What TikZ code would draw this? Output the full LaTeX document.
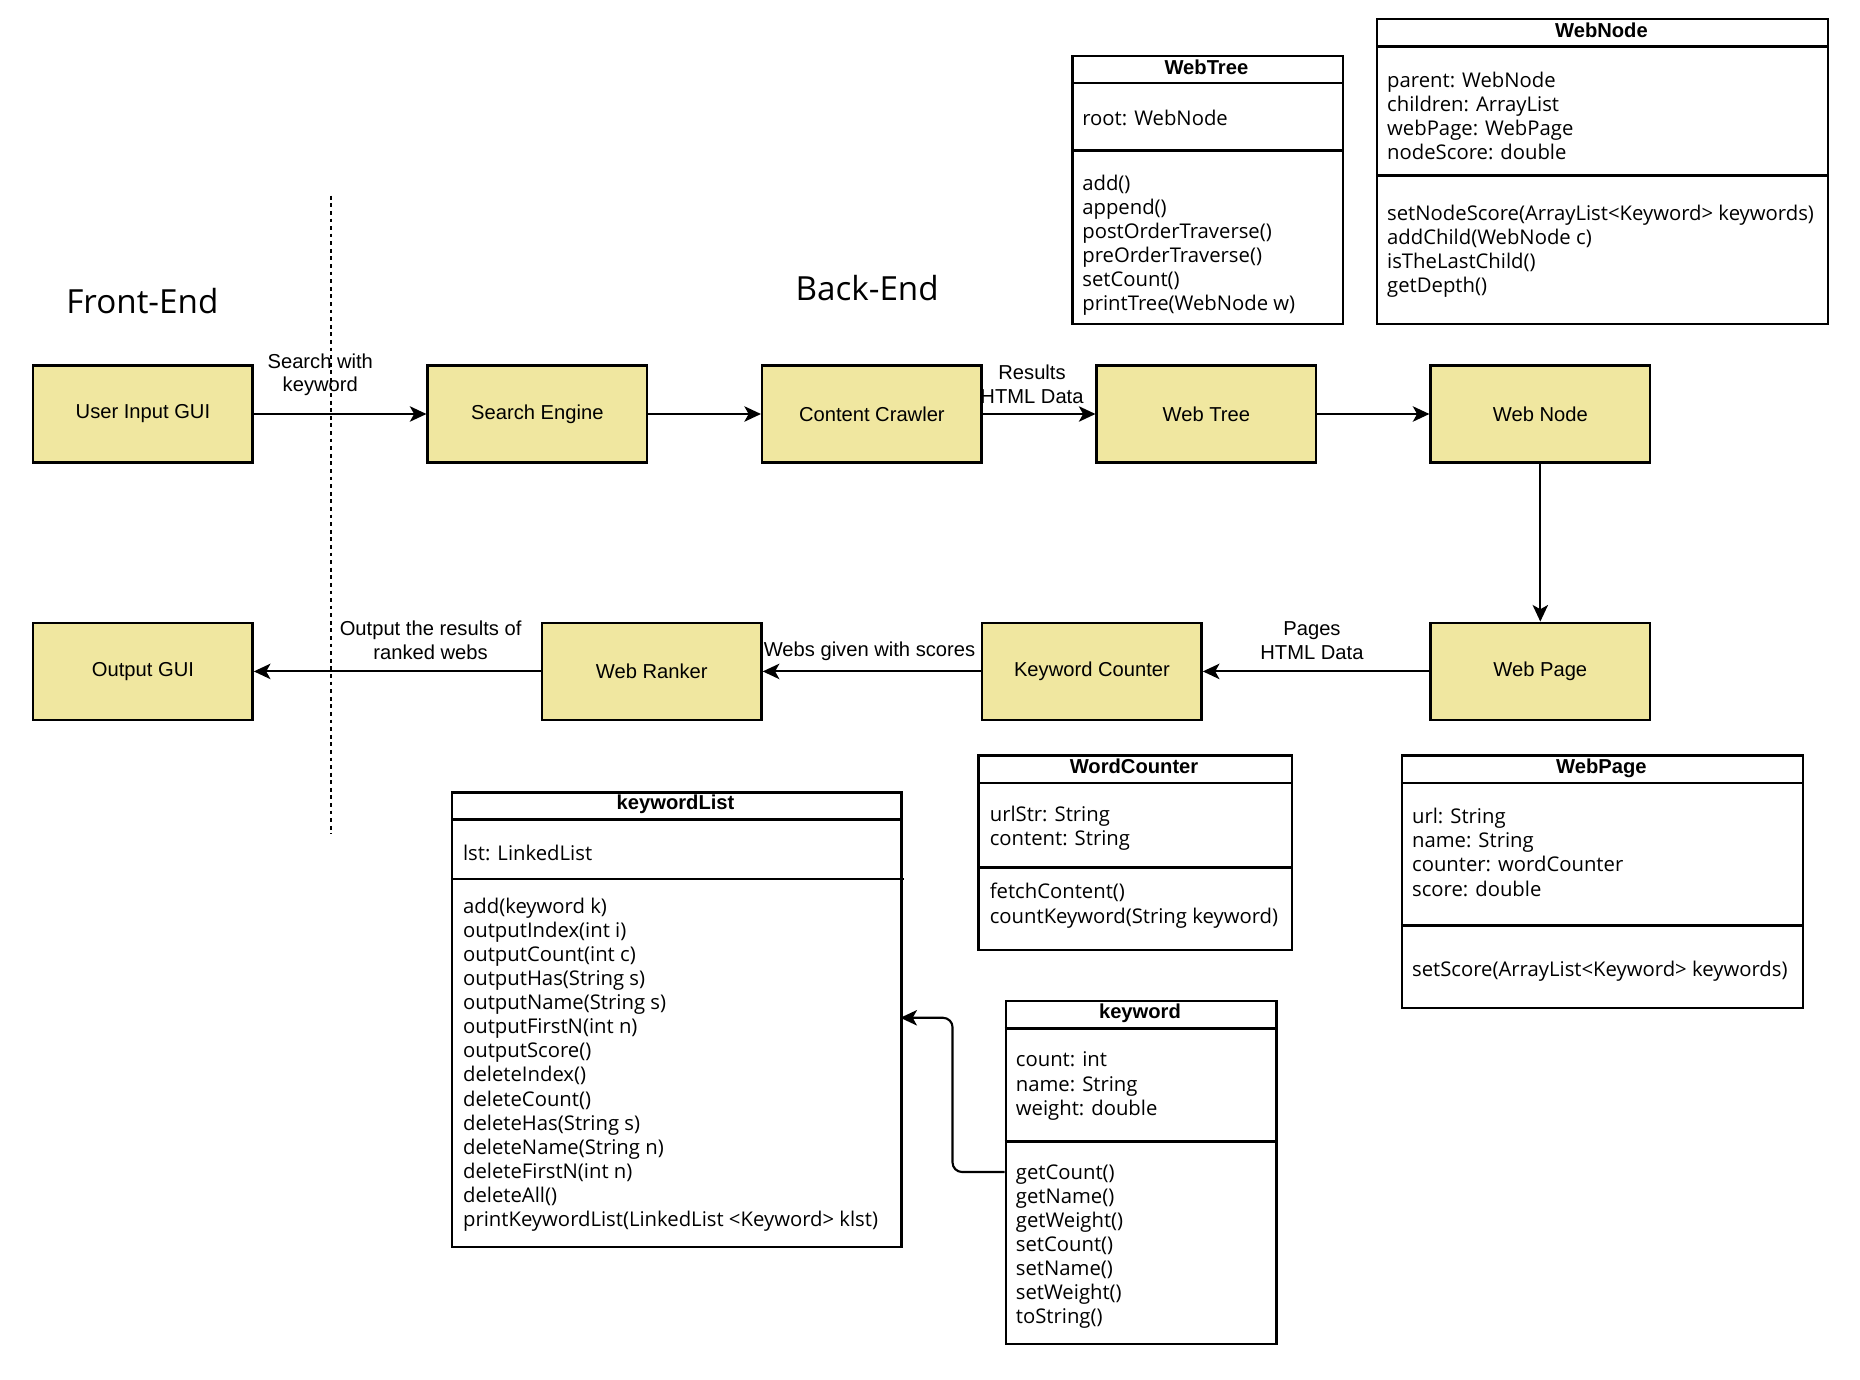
\documentclass[tikz,border=0pt]{standalone}
\usepackage{fontspec}
\setmainfont{Open Sans}
\newfontfamily\helv{Liberation Sans}
\usetikzlibrary{arrows.meta}
\definecolor{boxfill}{RGB}{240,231,160}
\begin{document}
\begin{tikzpicture}[x=0.5pt,y=-0.5pt,
  proc/.style={draw=black, line width=1pt, fill=boxfill, minimum width=92.5pt, minimum height=41pt, inner sep=0pt, font=\helv\fontsize{8.5}{10}\selectfont},
  lbl/.style={font=\helv\fontsize{8.5}{10}\selectfont, align=center, inner sep=0pt},
  flow/.style={line width=0.9pt, -{Stealth[length=7pt,width=6.5pt,inset=1.8pt]}},
  cls/.style={draw=black, line width=1pt, inner sep=0pt, anchor=north west},
  ctitle/.style={font=\helv\bfseries\fontsize{8.5}{10}\selectfont, inner sep=0pt, text height=6.5pt, text depth=1.8pt},
  member/.style={font=\fontsize{8.55}{10.15}\selectfont, align=left, anchor=west, inner sep=0pt},
  sep/.style={line width=1.2pt},
  heading/.style={font=\fontsize{14}{16}\selectfont, inner sep=0pt}
]
\fill[white] (0,0) rectangle (1568,1163);
\useasboundingbox (0,0) rectangle (1568,1163);

% section headings and the front/back boundary
\node[heading] (fe) at (120,254) {Front-End};
\node[heading] (be) at (731,243) {Back-End};
\coordinate (dtop) at (279,165);
\coordinate (dbot) at (279,703);

% process boxes
\node[proc] (ui) at (120.5,349) {User Input GUI};
\node[proc] (se) at (453,349) {Search Engine};
\node[proc] (cc) at (735,349) {Content Crawler};
\node[proc] (wt) at (1017,349) {Web Tree};
\node[proc] (wn) at (1298.5,349) {Web Node};
\node[proc] (og) at (120.5,566) {Output GUI};
\node[proc] (wr) at (549.5,566) {Web Ranker};
\node[proc] (kc) at (920.5,566) {Keyword Counter};
\node[proc] (wp) at (1298.5,566) {Web Page};

% flow connectors
\draw[flow] (ui) -- (se);
\draw[flow] (se) -- (cc);
\draw[flow] (cc) -- (wt);
\draw[flow] (wt) -- (wn);
\draw[flow] (wn) -- (wp);
\draw[flow] (wp) -- (kc);
\draw[flow] (kc) -- (wr);
\draw[flow] (wr) -- (og);

% connector labels
\node[lbl] (l1) at (270,316) {Search with\\keyword};
\node[lbl] (l2) at (870,324) {Results\\HTML Data};
\node[lbl] (l3) at (363,540) {Output the results of\\ranked webs};
\node[lbl] (l4) at (733,549) {Webs given with scores};
\node[lbl] (l5) at (1106,540) {Pages\\HTML Data};

\draw[line width=0.8pt, dash pattern=on 1.6pt off 1.6pt] (dtop) -- (dbot);

% ---- class: WebTree
\node[cls, minimum width=114pt, minimum height=113pt] (cWT) at (903,46) {};
\draw[sep] (903,70) -- (1131,70);
\draw[sep] (903,127) -- (1131,127);
\node[ctitle] (tWT) at (1017,58) {WebTree};
\node[member] (aWT) at (912,99) {root: WebNode};
\node[member] (mWT) at (912,206.5) {add()\\append()\\postOrderTraverse()\\preOrderTraverse()\\setCount()\\printTree(WebNode w)};

% ---- class: WebNode
\node[cls, minimum width=190pt, minimum height=128.5pt] (cWN) at (1160,15) {};
\draw[sep] (1160,39) -- (1540,39);
\draw[sep] (1160,148) -- (1540,148);
\node[ctitle] (tWN) at (1350,27) {WebNode};
\node[member] (aWN) at (1169,98) {parent: WebNode\\children: ArrayList\\webPage: WebPage\\nodeScore: double};
\node[member] (mWN) at (1169,211.5) {setNodeScore(ArrayList<Keyword> keywords)\\addChild(WebNode c)\\isTheLastChild()\\getDepth()};

% ---- class: WordCounter
\node[cls, minimum width=132pt, minimum height=82pt] (cWC) at (824,636) {};
\draw[sep] (824,660) -- (1088,660);
\draw[sep] (824,731) -- (1088,731);
\node[ctitle] (tWC) at (956,647) {WordCounter};
\node[member] (aWC) at (834,698) {urlStr: String\\content: String};
\node[member] (mWC) at (834,763.5) {fetchContent()\\countKeyword(String keyword)};

% ---- class: WebPage
\node[cls, minimum width=169pt, minimum height=106.5pt] (cWP) at (1181,636) {};
\draw[sep] (1181,660) -- (1519,660);
\draw[sep] (1181,780) -- (1519,780);
\node[ctitle] (tWP) at (1350,647) {WebPage};
\node[member] (aWP) at (1190,718.5) {url: String\\name: String\\counter: wordCounter\\score: double};
\node[member] (mWP) at (1190,819) {setScore(ArrayList<Keyword> keywords)};

% ---- class: keywordList
\node[cls, minimum width=189.5pt, minimum height=191.5pt] (cKL) at (380,667) {};
\draw[sep] (380,691) -- (759,691);
\draw[sep] (380,741) -- (762,741);
\node[ctitle] (tKL) at (569.5,678) {keywordList};
\node[member] (aKL) at (390,719) {lst: LinkedList};
\node[member] (mKL) at (390,897.5) {add(keyword k)\\outputIndex(int i)\\outputCount(int c)\\outputHas(String s)\\outputName(String s)\\outputFirstN(int n)\\outputScore()\\deleteIndex()\\deleteCount()\\deleteHas(String s)\\deleteName(String n)\\deleteFirstN(int n)\\deleteAll()\\printKeywordList(LinkedList <Keyword> klst)};

% ---- class: keyword
\node[cls, minimum width=114pt, minimum height=144.5pt] (cKW) at (847,843) {};
\draw[sep] (847,867) -- (1075,867);
\draw[sep] (847,962) -- (1075,962);
\node[ctitle] (tKW) at (961,854) {keyword};
\node[member] (aKW) at (856,915.5) {count: int\\name: String\\weight: double};
\node[member] (mKW) at (856,1051) {getCount()\\getName()\\getWeight()\\setCount()\\setName()\\setWeight()\\toString()};

% keyword is held by keywordList
\coordinate (kwport) at (847,988);
\coordinate (klport) at (759,858);
\draw[flow, rounded corners=4pt] (kwport) -- (803,988) -- (803,858) -- (klport);
\end{tikzpicture}
\end{document}
